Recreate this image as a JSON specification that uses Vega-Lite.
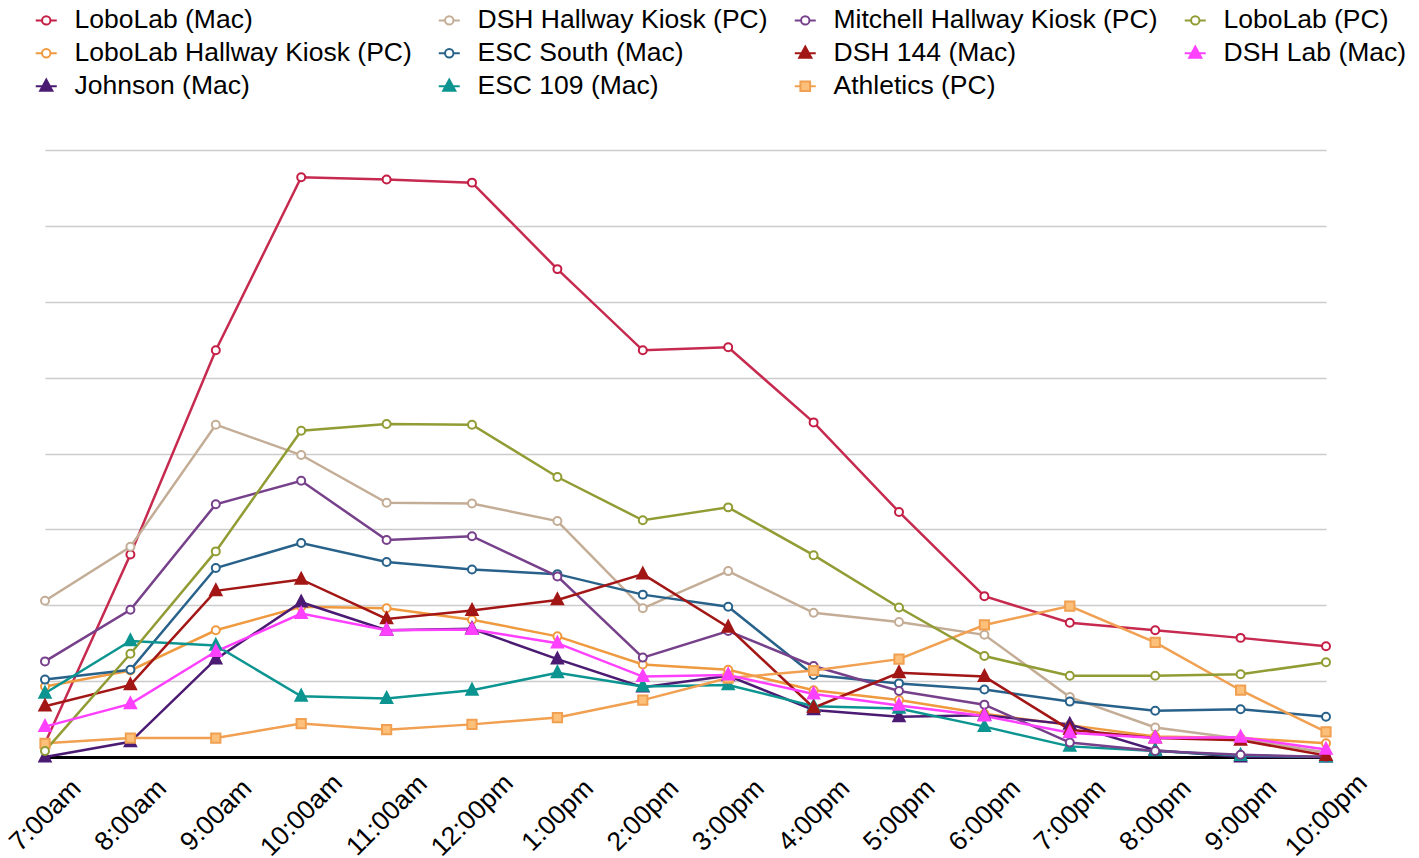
{
  "$schema": "https://vega.github.io/schema/vega-lite/v6.json",
  "autosize": {"type": "none"},
  "width": 1281,
  "height": 607,
  "padding": {"left": 45, "top": 150, "right": 93, "bottom": 101},
  "background": "#ffffff",
  "config": {"view": {"stroke": null}, "font": "Liberation Sans"},
  "data": {"values": [
    {"time":"7:00am","series":"LoboLab (Mac)","value":1.8},{"time":"8:00am","series":"LoboLab (Mac)","value":26.7},{"time":"9:00am","series":"LoboLab (Mac)","value":53.6},{"time":"10:00am","series":"LoboLab (Mac)","value":76.4},{"time":"11:00am","series":"LoboLab (Mac)","value":76.1},{"time":"12:00pm","series":"LoboLab (Mac)","value":75.7},{"time":"1:00pm","series":"LoboLab (Mac)","value":64.3},{"time":"2:00pm","series":"LoboLab (Mac)","value":53.6},{"time":"3:00pm","series":"LoboLab (Mac)","value":54.0},{"time":"4:00pm","series":"LoboLab (Mac)","value":44.1},{"time":"5:00pm","series":"LoboLab (Mac)","value":32.3},{"time":"6:00pm","series":"LoboLab (Mac)","value":21.2},{"time":"7:00pm","series":"LoboLab (Mac)","value":17.7},{"time":"8:00pm","series":"LoboLab (Mac)","value":16.7},{"time":"9:00pm","series":"LoboLab (Mac)","value":15.7},{"time":"10:00pm","series":"LoboLab (Mac)","value":14.6},
    {"time":"7:00am","series":"LoboLab Hallway Kiosk (PC)","value":9.3},{"time":"8:00am","series":"LoboLab Hallway Kiosk (PC)","value":11.4},{"time":"9:00am","series":"LoboLab Hallway Kiosk (PC)","value":16.7},{"time":"10:00am","series":"LoboLab Hallway Kiosk (PC)","value":19.8},{"time":"11:00am","series":"LoboLab Hallway Kiosk (PC)","value":19.6},{"time":"12:00pm","series":"LoboLab Hallway Kiosk (PC)","value":18.1},{"time":"1:00pm","series":"LoboLab Hallway Kiosk (PC)","value":15.9},{"time":"2:00pm","series":"LoboLab Hallway Kiosk (PC)","value":12.2},{"time":"3:00pm","series":"LoboLab Hallway Kiosk (PC)","value":11.5},{"time":"4:00pm","series":"LoboLab Hallway Kiosk (PC)","value":8.8},{"time":"5:00pm","series":"LoboLab Hallway Kiosk (PC)","value":7.5},{"time":"6:00pm","series":"LoboLab Hallway Kiosk (PC)","value":5.7},{"time":"7:00pm","series":"LoboLab Hallway Kiosk (PC)","value":4.2},{"time":"8:00pm","series":"LoboLab Hallway Kiosk (PC)","value":2.7},{"time":"9:00pm","series":"LoboLab Hallway Kiosk (PC)","value":2.5},{"time":"10:00pm","series":"LoboLab Hallway Kiosk (PC)","value":1.8},
    {"time":"7:00am","series":"Johnson (Mac)","value":0},{"time":"8:00am","series":"Johnson (Mac)","value":2.0},{"time":"9:00am","series":"Johnson (Mac)","value":12.9},{"time":"10:00am","series":"Johnson (Mac)","value":20.4},{"time":"11:00am","series":"Johnson (Mac)","value":16.7},{"time":"12:00pm","series":"Johnson (Mac)","value":16.9},{"time":"1:00pm","series":"Johnson (Mac)","value":12.9},{"time":"2:00pm","series":"Johnson (Mac)","value":9.2},{"time":"3:00pm","series":"Johnson (Mac)","value":10.7},{"time":"4:00pm","series":"Johnson (Mac)","value":6.2},{"time":"5:00pm","series":"Johnson (Mac)","value":5.3},{"time":"6:00pm","series":"Johnson (Mac)","value":5.5},{"time":"7:00pm","series":"Johnson (Mac)","value":4.3},{"time":"8:00pm","series":"Johnson (Mac)","value":0.9},{"time":"9:00pm","series":"Johnson (Mac)","value":0},{"time":"10:00pm","series":"Johnson (Mac)","value":0},
    {"time":"7:00am","series":"DSH Hallway Kiosk (PC)","value":20.6},{"time":"8:00am","series":"DSH Hallway Kiosk (PC)","value":27.7},{"time":"9:00am","series":"DSH Hallway Kiosk (PC)","value":43.8},{"time":"10:00am","series":"DSH Hallway Kiosk (PC)","value":39.8},{"time":"11:00am","series":"DSH Hallway Kiosk (PC)","value":33.5},{"time":"12:00pm","series":"DSH Hallway Kiosk (PC)","value":33.4},{"time":"1:00pm","series":"DSH Hallway Kiosk (PC)","value":31.1},{"time":"2:00pm","series":"DSH Hallway Kiosk (PC)","value":19.6},{"time":"3:00pm","series":"DSH Hallway Kiosk (PC)","value":24.5},{"time":"4:00pm","series":"DSH Hallway Kiosk (PC)","value":19.0},{"time":"5:00pm","series":"DSH Hallway Kiosk (PC)","value":17.8},{"time":"6:00pm","series":"DSH Hallway Kiosk (PC)","value":16.1},{"time":"7:00pm","series":"DSH Hallway Kiosk (PC)","value":7.9},{"time":"8:00pm","series":"DSH Hallway Kiosk (PC)","value":3.9},{"time":"9:00pm","series":"DSH Hallway Kiosk (PC)","value":2.4},{"time":"10:00pm","series":"DSH Hallway Kiosk (PC)","value":0.6},
    {"time":"7:00am","series":"ESC South (Mac)","value":10.2},{"time":"8:00am","series":"ESC South (Mac)","value":11.5},{"time":"9:00am","series":"ESC South (Mac)","value":24.9},{"time":"10:00am","series":"ESC South (Mac)","value":28.2},{"time":"11:00am","series":"ESC South (Mac)","value":25.7},{"time":"12:00pm","series":"ESC South (Mac)","value":24.7},{"time":"1:00pm","series":"ESC South (Mac)","value":24.1},{"time":"2:00pm","series":"ESC South (Mac)","value":21.4},{"time":"3:00pm","series":"ESC South (Mac)","value":19.8},{"time":"4:00pm","series":"ESC South (Mac)","value":10.8},{"time":"5:00pm","series":"ESC South (Mac)","value":9.7},{"time":"6:00pm","series":"ESC South (Mac)","value":8.9},{"time":"7:00pm","series":"ESC South (Mac)","value":7.3},{"time":"8:00pm","series":"ESC South (Mac)","value":6.1},{"time":"9:00pm","series":"ESC South (Mac)","value":6.3},{"time":"10:00pm","series":"ESC South (Mac)","value":5.3},
    {"time":"7:00am","series":"ESC 109 (Mac)","value":8.4},{"time":"8:00am","series":"ESC 109 (Mac)","value":15.3},{"time":"9:00am","series":"ESC 109 (Mac)","value":14.7},{"time":"10:00am","series":"ESC 109 (Mac)","value":8.0},{"time":"11:00am","series":"ESC 109 (Mac)","value":7.7},{"time":"12:00pm","series":"ESC 109 (Mac)","value":8.8},{"time":"1:00pm","series":"ESC 109 (Mac)","value":11.1},{"time":"2:00pm","series":"ESC 109 (Mac)","value":9.3},{"time":"3:00pm","series":"ESC 109 (Mac)","value":9.5},{"time":"4:00pm","series":"ESC 109 (Mac)","value":6.7},{"time":"5:00pm","series":"ESC 109 (Mac)","value":6.4},{"time":"6:00pm","series":"ESC 109 (Mac)","value":4.0},{"time":"7:00pm","series":"ESC 109 (Mac)","value":1.4},{"time":"8:00pm","series":"ESC 109 (Mac)","value":0.8},{"time":"9:00pm","series":"ESC 109 (Mac)","value":0.2},{"time":"10:00pm","series":"ESC 109 (Mac)","value":0},
    {"time":"7:00am","series":"Mitchell Hallway Kiosk (PC)","value":12.6},{"time":"8:00am","series":"Mitchell Hallway Kiosk (PC)","value":19.4},{"time":"9:00am","series":"Mitchell Hallway Kiosk (PC)","value":33.3},{"time":"10:00am","series":"Mitchell Hallway Kiosk (PC)","value":36.4},{"time":"11:00am","series":"Mitchell Hallway Kiosk (PC)","value":28.6},{"time":"12:00pm","series":"Mitchell Hallway Kiosk (PC)","value":29.1},{"time":"1:00pm","series":"Mitchell Hallway Kiosk (PC)","value":23.8},{"time":"2:00pm","series":"Mitchell Hallway Kiosk (PC)","value":13.1},{"time":"3:00pm","series":"Mitchell Hallway Kiosk (PC)","value":16.6},{"time":"4:00pm","series":"Mitchell Hallway Kiosk (PC)","value":12.0},{"time":"5:00pm","series":"Mitchell Hallway Kiosk (PC)","value":8.7},{"time":"6:00pm","series":"Mitchell Hallway Kiosk (PC)","value":6.9},{"time":"7:00pm","series":"Mitchell Hallway Kiosk (PC)","value":1.9},{"time":"8:00pm","series":"Mitchell Hallway Kiosk (PC)","value":0.8},{"time":"9:00pm","series":"Mitchell Hallway Kiosk (PC)","value":0.3},{"time":"10:00pm","series":"Mitchell Hallway Kiosk (PC)","value":0},
    {"time":"7:00am","series":"DSH 144 (Mac)","value":6.7},{"time":"8:00am","series":"DSH 144 (Mac)","value":9.5},{"time":"9:00am","series":"DSH 144 (Mac)","value":21.9},{"time":"10:00am","series":"DSH 144 (Mac)","value":23.4},{"time":"11:00am","series":"DSH 144 (Mac)","value":18.2},{"time":"12:00pm","series":"DSH 144 (Mac)","value":19.3},{"time":"1:00pm","series":"DSH 144 (Mac)","value":20.7},{"time":"2:00pm","series":"DSH 144 (Mac)","value":24.1},{"time":"3:00pm","series":"DSH 144 (Mac)","value":17.1},{"time":"4:00pm","series":"DSH 144 (Mac)","value":6.5},{"time":"5:00pm","series":"DSH 144 (Mac)","value":11.1},{"time":"6:00pm","series":"DSH 144 (Mac)","value":10.6},{"time":"7:00pm","series":"DSH 144 (Mac)","value":3.6},{"time":"8:00pm","series":"DSH 144 (Mac)","value":2.5},{"time":"9:00pm","series":"DSH 144 (Mac)","value":2.2},{"time":"10:00pm","series":"DSH 144 (Mac)","value":0.2},
    {"time":"7:00am","series":"Athletics (PC)","value":1.8},{"time":"8:00am","series":"Athletics (PC)","value":2.5},{"time":"9:00am","series":"Athletics (PC)","value":2.5},{"time":"10:00am","series":"Athletics (PC)","value":4.4},{"time":"11:00am","series":"Athletics (PC)","value":3.6},{"time":"12:00pm","series":"Athletics (PC)","value":4.3},{"time":"1:00pm","series":"Athletics (PC)","value":5.2},{"time":"2:00pm","series":"Athletics (PC)","value":7.5},{"time":"3:00pm","series":"Athletics (PC)","value":10.4},{"time":"4:00pm","series":"Athletics (PC)","value":11.4},{"time":"5:00pm","series":"Athletics (PC)","value":12.9},{"time":"6:00pm","series":"Athletics (PC)","value":17.4},{"time":"7:00pm","series":"Athletics (PC)","value":19.9},{"time":"8:00pm","series":"Athletics (PC)","value":15.1},{"time":"9:00pm","series":"Athletics (PC)","value":8.8},{"time":"10:00pm","series":"Athletics (PC)","value":3.3},
    {"time":"7:00am","series":"LoboLab (PC)","value":0.8},{"time":"8:00am","series":"LoboLab (PC)","value":13.6},{"time":"9:00am","series":"LoboLab (PC)","value":27.1},{"time":"10:00am","series":"LoboLab (PC)","value":43.0},{"time":"11:00am","series":"LoboLab (PC)","value":43.9},{"time":"12:00pm","series":"LoboLab (PC)","value":43.8},{"time":"1:00pm","series":"LoboLab (PC)","value":36.9},{"time":"2:00pm","series":"LoboLab (PC)","value":31.2},{"time":"3:00pm","series":"LoboLab (PC)","value":32.9},{"time":"4:00pm","series":"LoboLab (PC)","value":26.6},{"time":"5:00pm","series":"LoboLab (PC)","value":19.7},{"time":"6:00pm","series":"LoboLab (PC)","value":13.3},{"time":"7:00pm","series":"LoboLab (PC)","value":10.7},{"time":"8:00pm","series":"LoboLab (PC)","value":10.7},{"time":"9:00pm","series":"LoboLab (PC)","value":10.9},{"time":"10:00pm","series":"LoboLab (PC)","value":12.5},
    {"time":"7:00am","series":"DSH Lab (Mac)","value":4.0},{"time":"8:00am","series":"DSH Lab (Mac)","value":7.0},{"time":"9:00am","series":"DSH Lab (Mac)","value":13.9},{"time":"10:00am","series":"DSH Lab (Mac)","value":18.9},{"time":"11:00am","series":"DSH Lab (Mac)","value":16.7},{"time":"12:00pm","series":"DSH Lab (Mac)","value":16.8},{"time":"1:00pm","series":"DSH Lab (Mac)","value":15.0},{"time":"2:00pm","series":"DSH Lab (Mac)","value":10.6},{"time":"3:00pm","series":"DSH Lab (Mac)","value":10.8},{"time":"4:00pm","series":"DSH Lab (Mac)","value":8.3},{"time":"5:00pm","series":"DSH Lab (Mac)","value":6.8},{"time":"6:00pm","series":"DSH Lab (Mac)","value":5.4},{"time":"7:00pm","series":"DSH Lab (Mac)","value":3.2},{"time":"8:00pm","series":"DSH Lab (Mac)","value":2.5},{"time":"9:00pm","series":"DSH Lab (Mac)","value":2.6},{"time":"10:00pm","series":"DSH Lab (Mac)","value":1.0}
  ]},
  "encoding": {
    "x": {"field": "time", "type": "ordinal",
      "scale": {"type": "point", "padding": 0, "domain": ["7:00am","8:00am","9:00am","10:00am","11:00am","12:00pm","1:00pm","2:00pm","3:00pm","4:00pm","5:00pm","6:00pm","7:00pm","8:00pm","9:00pm","10:00pm"]},
      "axis": {"title": null, "labelAngle": -45, "labelAlign": "center", "labelBaseline": "middle", "labelPadding": 58, "ticks": false, "tickSize": 0, "grid": false, "domainColor": "#000000", "domainWidth": 3, "labelFont": "Liberation Sans", "labelFontSize": 26.5, "labelColor": "#000000", "labelOverlap": false, "labelFlush": false}},
    "y": {"field": "value", "type": "quantitative",
      "scale": {"domain": [0, 80], "nice": false, "zero": true},
      "axis": {"title": null, "labels": false, "ticks": false, "domain": false, "grid": true, "gridColor": "#cccccc", "gridWidth": 1.5, "values": [10, 20, 30, 40, 50, 60, 70, 80]}}
  },
  "resolve": {"scale": {"stroke": "independent", "fill": "independent", "shape": "independent"}},
  "layer": [
    {
      "mark": {"type": "line", "strokeWidth": 2.5},
      "encoding": {
        "color": {"field": "series", "type": "nominal",
          "scale": {
            "domain": ["LoboLab (Mac)","DSH Hallway Kiosk (PC)","Mitchell Hallway Kiosk (PC)","LoboLab (PC)","LoboLab Hallway Kiosk (PC)","ESC South (Mac)","DSH 144 (Mac)","DSH Lab (Mac)","Johnson (Mac)","ESC 109 (Mac)","Athletics (PC)","~"],
            "range": ["#c62a4f","#c4ad96","#76408a","#929c34","#f09a40","#28628a","#a31616","#ff40ff","#4b1a72","#0c9590","#f0a050","#ffffff"]},
          "legend": null}
      }
    },
    {
      "mark": {"type": "point", "size": 441, "strokeWidth": 2, "opacity": 1, "filled": false},
      "encoding": {
        "stroke": {"field": "series", "type": "nominal", "legend": null,
          "scale": {
            "domain": ["LoboLab (Mac)","DSH Hallway Kiosk (PC)","Mitchell Hallway Kiosk (PC)","LoboLab (PC)","LoboLab Hallway Kiosk (PC)","ESC South (Mac)","DSH 144 (Mac)","DSH Lab (Mac)","Johnson (Mac)","ESC 109 (Mac)","Athletics (PC)"],
            "range": ["#c41e45","#c4ad96","#76408a","#929c34","#f09a40","#28628a","#a31616","#ff40ff","#4b1a72","#0c9590","#f0a050"]}},
        "fill": {"field": "series", "type": "nominal", "legend": null,
          "scale": {
            "domain": ["LoboLab (Mac)","DSH Hallway Kiosk (PC)","Mitchell Hallway Kiosk (PC)","LoboLab (PC)","LoboLab Hallway Kiosk (PC)","ESC South (Mac)","DSH 144 (Mac)","DSH Lab (Mac)","Johnson (Mac)","ESC 109 (Mac)","Athletics (PC)"],
            "range": ["#ffffff","#ffffff","#ffffff","#ffffff","#ffffff","#ffffff","#a31616","#ff40ff","#4b1a72","#0c9590","#fdc07a"]}},
        "shape": {"field": "series", "type": "nominal", "legend": null,
          "scale": {
            "domain": ["LoboLab (Mac)","DSH Hallway Kiosk (PC)","Mitchell Hallway Kiosk (PC)","LoboLab (PC)","LoboLab Hallway Kiosk (PC)","ESC South (Mac)","DSH 144 (Mac)","DSH Lab (Mac)","Johnson (Mac)","ESC 109 (Mac)","Athletics (PC)"],
            "range": [
              "M0.38,0A0.38,0.38,0,1,1,-0.38,0A0.38,0.38,0,1,1,0.38,0Z",
              "M0.38,0A0.38,0.38,0,1,1,-0.38,0A0.38,0.38,0,1,1,0.38,0Z",
              "M0.38,0A0.38,0.38,0,1,1,-0.38,0A0.38,0.38,0,1,1,0.38,0Z",
              "M0.38,0A0.38,0.38,0,1,1,-0.38,0A0.38,0.38,0,1,1,0.38,0Z",
              "M0.38,0A0.38,0.38,0,1,1,-0.38,0A0.38,0.38,0,1,1,0.38,0Z",
              "M0.38,0A0.38,0.38,0,1,1,-0.38,0A0.38,0.38,0,1,1,0.38,0Z",
              "M0,-0.62L0.54,0.42L-0.54,0.42Z",
              "M0,-0.62L0.54,0.42L-0.54,0.42Z",
              "M0,-0.62L0.54,0.42L-0.54,0.42Z",
              "M0,-0.62L0.54,0.42L-0.54,0.42Z",
              "M-0.44,-0.44L0.44,-0.44L0.44,0.44L-0.44,0.44Z"]}}
      }
    },
    {
      "mark": {"type": "point", "size": 441, "strokeWidth": 2, "opacity": 0, "filled": false},
      "encoding": {
        "stroke": {"field": "series", "type": "nominal",
          "scale": {
            "domain": ["LoboLab (Mac)","DSH Hallway Kiosk (PC)","Mitchell Hallway Kiosk (PC)","LoboLab (PC)","LoboLab Hallway Kiosk (PC)","ESC South (Mac)","DSH 144 (Mac)","DSH Lab (Mac)","Johnson (Mac)","ESC 109 (Mac)","Athletics (PC)"],
            "range": ["#c41e45","#c4ad96","#76408a","#929c34","#f09a40","#28628a","#a31616","#ff40ff","#4b1a72","#0c9590","#f0a050"]},
          "legend": {"title": null, "orient": "none", "legendX": -12, "legendY": -143, "direction": "horizontal", "columns": 4, "columnPadding": 22, "rowPadding": 6, "padding": 0,
            "symbolSize": 441, "symbolStrokeWidth": 2, "symbolOpacity": 1, "labelFont": "Liberation Sans", "labelFontSize": 26.5, "labelColor": "#000000", "labelOffset": 15, "labelLimit": 600}},
        "fill": {"field": "series", "type": "nominal",
          "scale": {
            "domain": ["LoboLab (Mac)","DSH Hallway Kiosk (PC)","Mitchell Hallway Kiosk (PC)","LoboLab (PC)","LoboLab Hallway Kiosk (PC)","ESC South (Mac)","DSH 144 (Mac)","DSH Lab (Mac)","Johnson (Mac)","ESC 109 (Mac)","Athletics (PC)"],
            "range": ["#ffffff","#ffffff","#ffffff","#ffffff","#ffffff","#ffffff","#a31616","#ff40ff","#4b1a72","#0c9590","#fdc07a"]},
          "legend": {"title": null, "orient": "none", "legendX": -12, "legendY": -143, "direction": "horizontal", "columns": 4, "columnPadding": 22, "rowPadding": 6, "padding": 0,
            "symbolSize": 441, "symbolStrokeWidth": 2, "symbolOpacity": 1, "labelFont": "Liberation Sans", "labelFontSize": 26.5, "labelColor": "#000000", "labelOffset": 15, "labelLimit": 600}},
        "shape": {"field": "series", "type": "nominal",
          "scale": {
            "domain": ["LoboLab (Mac)","DSH Hallway Kiosk (PC)","Mitchell Hallway Kiosk (PC)","LoboLab (PC)","LoboLab Hallway Kiosk (PC)","ESC South (Mac)","DSH 144 (Mac)","DSH Lab (Mac)","Johnson (Mac)","ESC 109 (Mac)","Athletics (PC)"],
            "range": [
              "M0.4,0A0.4,0.4,0,1,1,-0.4,0A0.4,0.4,0,1,1,0.4,0ZM-1,0L-0.3,0M0.3,0L1,0",
              "M0.4,0A0.4,0.4,0,1,1,-0.4,0A0.4,0.4,0,1,1,0.4,0ZM-1,0L-0.3,0M0.3,0L1,0",
              "M0.4,0A0.4,0.4,0,1,1,-0.4,0A0.4,0.4,0,1,1,0.4,0ZM-1,0L-0.3,0M0.3,0L1,0",
              "M0.4,0A0.4,0.4,0,1,1,-0.4,0A0.4,0.4,0,1,1,0.4,0ZM-1,0L-0.3,0M0.3,0L1,0",
              "M0.4,0A0.4,0.4,0,1,1,-0.4,0A0.4,0.4,0,1,1,0.4,0ZM-1,0L-0.3,0M0.3,0L1,0",
              "M0.4,0A0.4,0.4,0,1,1,-0.4,0A0.4,0.4,0,1,1,0.4,0ZM-1,0L-0.3,0M0.3,0L1,0",
              "M0,-0.64L0.58,0.44L-0.58,0.44ZM-1,0L-0.3,0M0.3,0L1,0",
              "M0,-0.64L0.58,0.44L-0.58,0.44ZM-1,0L-0.3,0M0.3,0L1,0",
              "M0,-0.64L0.58,0.44L-0.58,0.44ZM-1,0L-0.3,0M0.3,0L1,0",
              "M0,-0.64L0.58,0.44L-0.58,0.44ZM-1,0L-0.3,0M0.3,0L1,0",
              "M-0.46,-0.46L0.46,-0.46L0.46,0.46L-0.46,0.46ZM-1,0L-0.46,0M0.46,0L1,0"]},
          "legend": {"title": null, "orient": "none", "legendX": -12, "legendY": -143, "direction": "horizontal", "columns": 4, "columnPadding": 22, "rowPadding": 6, "padding": 0,
            "symbolSize": 441, "symbolStrokeWidth": 2, "symbolOpacity": 1, "labelFont": "Liberation Sans", "labelFontSize": 26.5, "labelColor": "#000000", "labelOffset": 15, "labelLimit": 600}}
      }
    }
  ]
}
